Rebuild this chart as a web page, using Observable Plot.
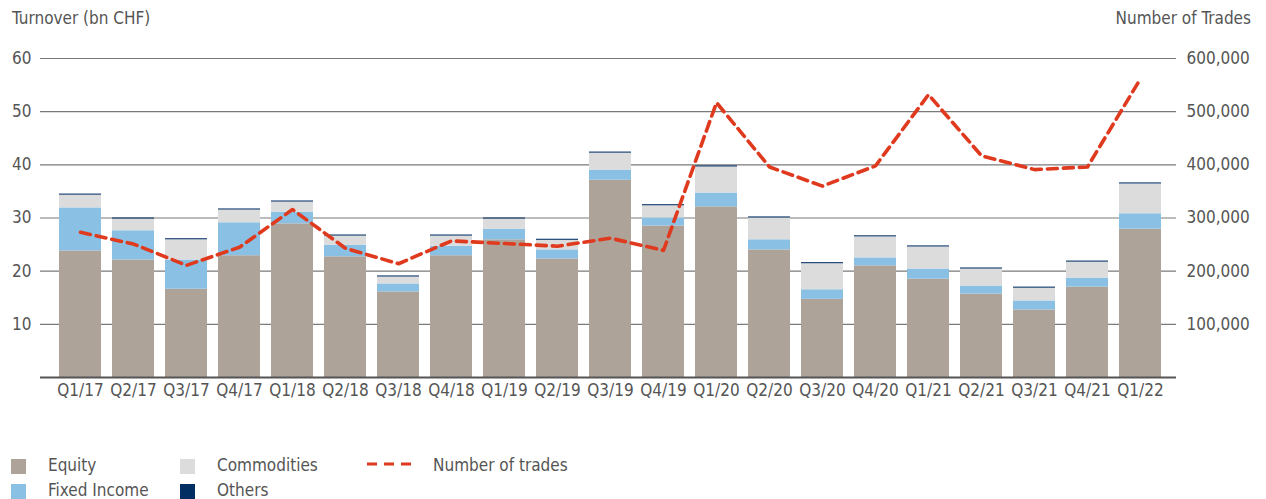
<!DOCTYPE html>
<html>
<head>
<meta charset="utf-8">
<script src="https://cdn.jsdelivr.net/npm/d3@7"></script>
<script src="https://cdn.jsdelivr.net/npm/@observablehq/plot@0.6"></script>
<style>
  html, body { margin: 0; padding: 0; background: #fff; }
  #wrap { position: relative; width: 1266px; height: 499px; overflow: hidden;
    font-family: "DejaVu Sans Condensed", "DejaVu Sans", sans-serif; color: #555; }
  .ttl { position: absolute; top: 8px; font-size: 17px; color: #555; white-space: nowrap; }
  #chart { position: absolute; left: 0; top: 0; }
  .lg { position: absolute; font-size: 17px; color: #555; white-space: nowrap; line-height: 15px; }
  .sw { position: absolute; width: 15px; height: 15px; }
</style>
</head>
<body>
<div id="wrap">
  <div id="chart"></div>
  <div class="ttl" style="left:12px;">Turnover (bn CHF)</div>
  <div class="ttl" style="right:15px;">Number of Trades</div>
  <div id="legend"></div>
</div>
<script>
const quarters = ["Q1/17","Q2/17","Q3/17","Q4/17","Q1/18","Q2/18","Q3/18","Q4/18","Q1/19","Q2/19","Q3/19","Q4/19","Q1/20","Q2/20","Q3/20","Q4/20","Q1/21","Q2/21","Q3/21","Q4/21","Q1/22"];
const equity      = [23.8,22.1,16.6,22.9,28.9,22.7,16.1,22.9,25.9,22.3,37.1,28.5,32.1,24.0,14.7,21.0,18.5,15.7,12.7,17.0,27.9];
const fixedIncome = [ 8.1, 5.5, 5.5, 6.2, 2.2, 2.2, 1.5, 1.8, 2.0, 1.7, 1.9, 1.5, 2.6, 1.9, 1.8, 1.5, 1.9, 1.5, 1.7, 1.7, 2.9];
const commodities = [ 2.4, 2.2, 3.8, 2.4, 1.9, 1.7, 1.3, 1.9, 1.9, 1.8, 3.2, 2.3, 4.9, 4.1, 4.9, 3.95,4.15,3.2, 2.4, 3.0, 5.6];
const others      = [ 0.2, 0.2, 0.2, 0.2, 0.2, 0.2, 0.2, 0.2, 0.2, 0.2, 0.2, 0.2, 0.2, 0.2, 0.2, 0.2, 0.2, 0.2, 0.2, 0.2, 0.2];
const trades      = [273000,251000,211000,245000,316000,243000,214000,257000,252000,247000,262000,239000,517000,396000,360000,398000,532000,417000,391000,396000,562000];

const seriesNames  = ["Equity","Fixed Income","Commodities","Others"];
const seriesColors = ["#ada399","#89c0e3","#dcdcdc","#002d62"];
const lineName = "Number of trades";
const lineColor = "#e03a1e";
const leftTicks = [10,20,30,40,50,60];
const tradesPerUnit = 10000;

const seriesValues = [equity, fixedIncome, commodities, others];
const long = [];
quarters.forEach((q, i) => seriesNames.forEach((s, j) => long.push({q, s, v: seriesValues[j][i]})));
const tradeRows = quarters.map((q, i) => ({q, n: trades[i]}));

const chart = Plot.plot({
  width: 1266,
  height: 420,
  marginTop: 58,
  marginBottom: 43,
  marginLeft: 40,
  marginRight: 90,
  style: {fontFamily: '"DejaVu Sans Condensed", "DejaVu Sans", sans-serif', fontSize: "17px", color: "#555", background: "#fff"},
  x: {type: "band", domain: quarters, paddingInner: 0.21, paddingOuter: 0.1, insetLeft: 13, insetRight: 9, label: null},
  y: {domain: [0, 60], label: null},
  color: {domain: seriesNames, range: seriesColors},
  marks: [
    Plot.ruleY(leftTicks, {stroke: "#7a7a7a", strokeWidth: 1.2}),
    Plot.barY(long, {x: "q", y: "v", fill: "s", order: seriesNames}),
    Plot.ruleY([0], {stroke: "#555", strokeWidth: 2}),
    Plot.line(tradeRows, {x: "q", y: d => d.n / tradesPerUnit, stroke: lineColor, strokeWidth: 3.6, strokeDasharray: "10,6", strokeLinejoin: "round"}),
    Plot.axisX({tickSize: 0, tickPadding: 6, fill: "#555"}),
    Plot.axisY({anchor: "left", ticks: leftTicks, tickSize: 0, tickPadding: 9, fill: "#555", label: null}),
    Plot.axisY({anchor: "right", ticks: leftTicks, tickSize: 0, tickPadding: 10, fill: "#555", label: null,
      tickFormat: d => d3.format(",")(d * tradesPerUnit)})
  ]
});
document.getElementById("chart").appendChild(chart);

// legend
const lg = document.getElementById("legend");
const pos = [[11, 459], [11, 484], [180, 459], [180, 484]];
seriesNames.forEach((s, i) => {
  const [x, y] = pos[i];
  const sw = document.createElement("div");
  sw.className = "sw"; sw.style.left = x + "px"; sw.style.top = y + "px"; sw.style.background = seriesColors[i];
  lg.appendChild(sw);
  const t = document.createElement("div");
  t.className = "lg"; t.style.left = (x + 37) + "px"; t.style.top = (y - 1) + "px"; t.textContent = s;
  lg.appendChild(t);
});
const ls = d3.select(lg).append("svg").attr("width", 50).attr("height", 10)
  .style("position", "absolute").style("left", "366px").style("top", "459px");
ls.append("line").attr("x1", 1).attr("x2", 46).attr("y1", 5).attr("y2", 5)
  .attr("stroke", lineColor).attr("stroke-width", 3.2).attr("stroke-dasharray", "10,7");
const lt = document.createElement("div");
lt.className = "lg"; lt.style.left = "433px"; lt.style.top = "458px"; lt.textContent = lineName;
lg.appendChild(lt);
</script>
</body>
</html>
